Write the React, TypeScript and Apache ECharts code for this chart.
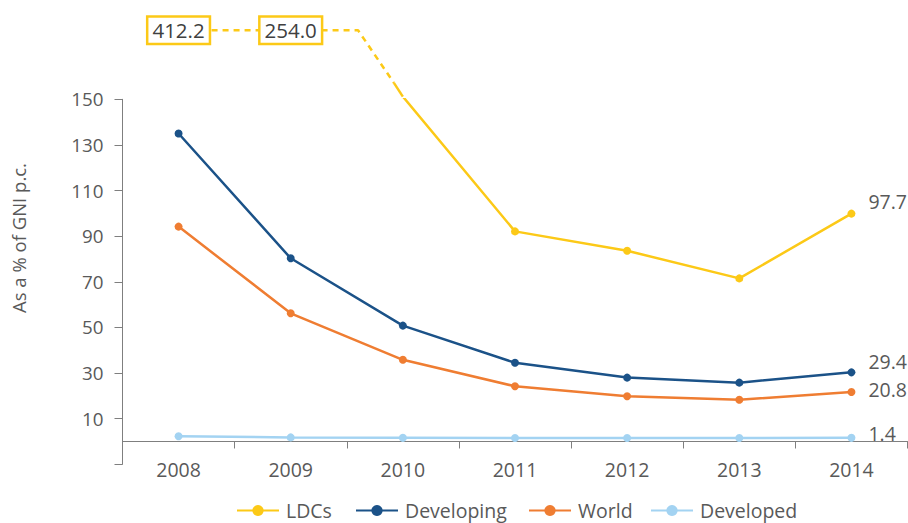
import React, { useEffect, useRef } from "react";
import * as echarts from "echarts";

const years = ["2008", "2009", "2010", "2011", "2012", "2013", "2014"];
const ldcs = [null, null, 151.2, 92.1, 83.6, 71.5, 99.9];
const developing = [135.0, 80.3, 50.8, 34.5, 28.0, 25.8, 30.3];
const world = [94.2, 56.2, 35.8, 24.2, 19.8, 18.3, 21.7];
const developed = [2.3, 1.8, 1.6, 1.5, 1.5, 1.5, 1.6];
const seriesNames = ["LDCs", "Developing", "World", "Developed"];
const endLabels = ["97.7", "29.4", "20.8", "1.4"];
// LDC values too large for the scale: drawn in boxes above the plot
const ldcOffLabels = ["412.2", "254.0"];
// broken-axis path (x in category index units, y in axis units)
const ldcBreakPath = [[0, 180.3], [1, 180.3], [1.6, 180.3], [1.92, 157.2]];
const ldcStub = [[1.92, 157.2], [2, 151.2]];
const yTicks = { min: -10, max: 150, interval: 20 };

const FONT = "'Open Sans', 'Noto Sans', sans-serif";
const GRAY = "#595959";
const C_LDC = "#FCC917";
const C_DEV = "#1B5288";
const C_WORLD = "#EF7D32";
const C_DVD = "#A3D3F2";
const legendLefts = [236, 355, 528, 650];

export default function App() {
  const ref = useRef<HTMLDivElement>(null);
  useEffect(() => {
    const chart = echarts.init(ref.current!, null, { renderer: "svg" });
    const lineSeries = (name: string, data: any[], color: string, label: string, dy: number) => ({
      name,
      type: "line",
      data,
      xAxisIndex: 0,
      yAxisIndex: 0,
      symbol: "circle",
      symbolSize: 8,
      lineStyle: { width: 2.5, color },
      itemStyle: { color },
      endLabel: {
        show: true,
        formatter: label,
        color: GRAY,
        fontFamily: FONT,
        fontSize: 19.5,
        offset: [9, dy],
      },
      z: 3,
    });
    chart.setOption({
      animation: false,
      grid: { left: 122.5, right: 0.5, top: 99.3, bottom: 523 - 464.3, containLabel: false },
      xAxis: [
        {
          // axis line and ticks on the zero line
          type: "category",
          data: years,
          boundaryGap: true,
          axisLine: { onZero: true, lineStyle: { color: "#7f7f7f", width: 1 } },
          axisTick: { show: true, length: 7, lineStyle: { color: "#7f7f7f" } },
          axisLabel: { show: false },
          splitLine: { show: false },
        },
        {
          // year labels below the plot
          type: "category",
          data: years,
          position: "bottom",
          boundaryGap: true,
          axisLine: { show: false, onZero: false },
          axisTick: { show: false },
          axisLabel: {
            color: GRAY,
            fontFamily: FONT,
            fontSize: 19.5,
            margin: 5.4,
            verticalAlign: "middle",
          },
          splitLine: { show: false },
        },
        {
          type: "value",
          min: -0.5,
          max: 6.5,
          show: false,
        },
      ],
      yAxis: {
        type: "value",
        min: yTicks.min,
        max: yTicks.max,
        interval: yTicks.interval,
        axisLine: { show: true, onZero: false, lineStyle: { color: "#7f7f7f", width: 1 } },
        axisTick: { show: true, length: 8, lineStyle: { color: "#7f7f7f" } },
        axisLabel: {
          color: GRAY,
          fontFamily: FONT,
          fontSize: 18.8,
          margin: 19,
          formatter: (v: number) => (v < 0 ? "" : String(v)),
        },
        splitLine: { show: false },
      },
      legend: seriesNames.map((n, i) => ({
        data: [n],
        left: legendLefts[i],
        top: 500.5,
        padding: 0,
        itemWidth: 42,
        itemHeight: 14,
        textStyle: {
          color: GRAY,
          fontFamily: FONT,
          fontSize: 19.5,
          lineHeight: 20,
          padding: [0, 0, 0, 2],
        },
      })),
      graphic: [
        {
          type: "text",
          x: 18,
          y: 238,
          rotation: Math.PI / 2,
          style: {
            text: "As a % of GNI p.c.",
            fill: GRAY,
            font: `18.5px ${FONT}`,
            textAlign: "center",
            textVerticalAlign: "middle",
          },
        },
      ],
      series: [
        lineSeries(seriesNames[0], ldcs, C_LDC, endLabels[0], -12),
        lineSeries(seriesNames[1], developing, C_DEV, endLabels[1], -11),
        lineSeries(seriesNames[2], world, C_WORLD, endLabels[2], -2),
        lineSeries(seriesNames[3], developed, C_DVD, endLabels[3], -4),
        {
          name: "LDCs break",
          type: "line",
          xAxisIndex: 2,
          yAxisIndex: 0,
          clip: false,
          data: ldcBreakPath.map((p, i) =>
            i < ldcOffLabels.length
              ? {
                  value: p,
                  label: {
                    show: true,
                    position: "inside",
                    formatter: ldcOffLabels[i],
                    color: "#404040",
                    fontFamily: FONT,
                    fontSize: 20.5,
                    backgroundColor: "#fff",
                    borderColor: C_LDC,
                    borderWidth: 2.5,
                    padding: [3, 4, 1, 4],
                  },
                }
              : { value: p, symbolSize: 0 }
          ),
          symbol: "circle",
          symbolSize: 2,
          lineStyle: { width: 2.5, color: C_LDC, type: [6, 5] },
          itemStyle: { color: C_LDC },
          z: 4,
        },
        {
          name: "LDCs stub",
          type: "line",
          xAxisIndex: 2,
          yAxisIndex: 0,
          clip: false,
          data: ldcStub,
          symbol: "none",
          lineStyle: { width: 2.5, color: C_LDC },
          z: 3,
        },
      ],
    });
    return () => chart.dispose();
  }, []);
  return (
    <div
      ref={ref}
      style={{ position: "absolute", left: 0, top: 0, width: 908, height: 523, background: "#fff" }}
    />
  );
}
